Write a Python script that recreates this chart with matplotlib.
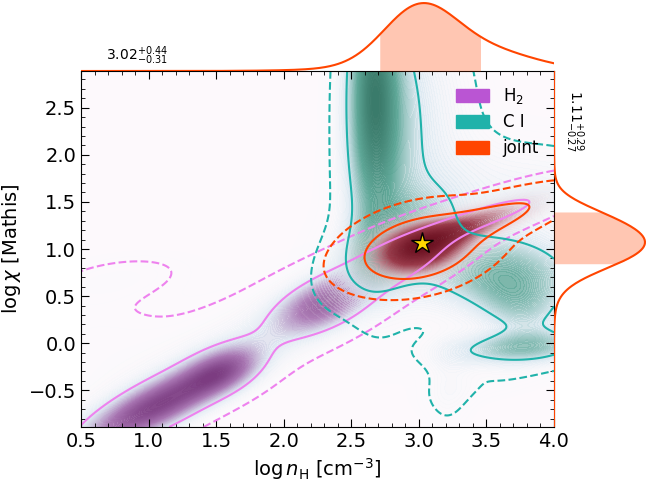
import numpy as np
import matplotlib
matplotlib.use("Agg")
import matplotlib.pyplot as plt
from matplotlib.colors import LinearSegmentedColormap, to_rgba
from matplotlib.patches import Patch
from matplotlib.ticker import MultipleLocator

# axis ranges
x_range = (0.5, 4.0)
y_range = (-0.89, 2.89)

# posterior shapes: gaussian pieces
# (centre x, centre y, angle in deg, sigma along, sigma across, peak)
h2_x = [1.05, 1.55, 2.30, 2.80, 3.55, 1.80, 1.40, 0.78, 0.50]
h2_y = [-0.68, -0.30, 0.42, 0.85, 1.38, 0.00, 0.05, 0.70, 0.10]
h2_ang = [37, 40, 38, 34, 25, 38, 38, 15, 40]
h2_sa = [0.45, 0.22, 0.28, 0.35, 0.50, 1.50, 1.40, 0.40, 0.50]
h2_sp = [0.15, 0.14, 0.16, 0.15, 0.11, 0.22, 0.35, 0.16, 0.40]
h2_w = [1.0, 0.6, 0.75, 0.5, 0.4, 0.25, 0.06, 0.08, 0.07]

ci_x = [2.66, 2.78, 2.80, 3.60, 3.75, 3.75, 3.20, 3.22, 3.80, 3.15, 3.60]
ci_y = [2.70, 2.30, 1.05, 0.75, -0.05, 0.35, 0.60, -0.45, 1.60, 2.50, -0.40]
ci_ang = [90, 90, 55, -10, 5, -60, 0, 88, 0, 90, 20]
ci_sa = [1.00, 1.00, 0.40, 0.45, 0.35, 0.25, 0.90, 0.35, 0.60, 0.80, 0.35]
ci_sp = [0.13, 0.22, 0.22, 0.28, 0.12, 0.20, 0.70, 0.12, 0.40, 0.25, 0.12]
ci_w = [1.0, 0.5, 0.6, 0.75, 0.7, 0.4, 0.06, 0.15, 0.25, 0.20, 0.08]

joint_x = [3.00, 3.45, 3.10, 3.85]
joint_y = [1.00, 1.28, 1.08, 1.50]
joint_ang = [27, 25, 25, 25]
joint_sa = [0.28, 0.35, 0.60, 0.30]
joint_sp = [0.20, 0.11, 0.25, 0.10]
joint_w = [1.0, 0.5, 0.08, 0.10]

# best point and quoted numbers
best_x, best_y = [3.02], [1.06]
nh_med, nh_up, nh_lo = 3.02, 0.44, 0.31
chi_med, chi_up, chi_lo = 1.11, 0.29, 0.27


def mixture(X, Y, x0, y0, ang, sa, sp, w):
    Z = np.zeros_like(X)
    for i in range(len(x0)):
        t = np.deg2rad(ang[i])
        dx, dy = X - x0[i], Y - y0[i]
        a = dx * np.cos(t) + dy * np.sin(t)
        p = -dx * np.sin(t) + dy * np.cos(t)
        Z += w[i] * np.exp(-0.5 * ((a / sa[i]) ** 2 + (p / sp[i]) ** 2))
    return Z


def hpd_levels(Z, fracs=(0.95, 0.68)):
    z = np.sort(Z.ravel())[::-1]
    c = np.cumsum(z)
    c /= c[-1]
    return [z[np.searchsorted(c, f)] for f in fracs]


def fade_cmap(name, cols):
    # colours fade to transparent at zero so the layers can overlap
    return LinearSegmentedColormap.from_list(name, [to_rgba(c, a) for c, a in cols])


xg = np.linspace(*x_range, 400)
yg = np.linspace(*y_range, 400)
X, Y = np.meshgrid(xg, yg)

Z_h2 = mixture(X, Y, h2_x, h2_y, h2_ang, h2_sa, h2_sp, h2_w)
Z_ci = mixture(X, Y, ci_x, ci_y, ci_ang, ci_sa, ci_sp, ci_w)
Z_j = mixture(X, Y, joint_x, joint_y, joint_ang, joint_sa, joint_sp, joint_w)

cm_h2 = fade_cmap("h2", [("#ffffff", 0.0), ("#dce8f2", 0.6), ("#a874b2", 0.85), ("#7a3a80", 1.0)])
cm_ci = fade_cmap("ci", [("#ffffff", 0.0), ("#d6e6f0", 0.6), ("#5fa898", 0.85), ("#3a7a6a", 1.0)])
cm_j = fade_cmap("joint", [("#ffffff", 0.0), ("#e8c8d0", 0.3), ("#9a3a4a", 0.8), ("#6a1020", 1.0)])

fig = plt.figure(figsize=(6.5, 4.82), dpi=100)
ax = fig.add_axes([0.1246, 0.1141, 0.7277, 0.7386])
ax.set_facecolor("#fdf9fc")

for Z, cm in [(Z_h2, cm_h2), (Z_ci, cm_ci), (Z_j, cm_j)]:
    ax.contourf(X, Y, Z, levels=np.linspace(0, Z.max(), 80), cmap=cm)

for Z, col in [(Z_h2, "violet"), (Z_ci, "lightseagreen"), (Z_j, "orangered")]:
    ax.contour(X, Y, Z, levels=hpd_levels(Z), colors=col,
               linestyles=["--", "-"], linewidths=1.5)

ax.plot(best_x, best_y, marker="*", ms=16, mfc="gold", mec="k", mew=1.0, ls="none")

ax.set_xlim(*x_range)
ax.set_ylim(*y_range)
ax.xaxis.set_major_locator(MultipleLocator(0.5))
ax.yaxis.set_major_locator(MultipleLocator(0.5))
ax.xaxis.set_minor_locator(MultipleLocator(0.1))
ax.yaxis.set_minor_locator(MultipleLocator(0.1))
ax.tick_params(which="both", direction="in", top=True, right=True, labelsize=14)
ax.tick_params(which="major", length=6)
ax.tick_params(which="minor", length=3)
ax.set_xlabel(r"$\log n_{\rm H}$ [cm$^{-3}$]", fontsize=14)
ax.set_ylabel(r"$\log \chi$ [Mathis]", fontsize=14)

handles = [Patch(color="mediumorchid", label=r"H$_2$"),
           Patch(color="lightseagreen", label="C I"),
           Patch(color="orangered", label="joint")]
ax.legend(handles=handles, loc="upper right", frameon=False, fontsize=12,
          handlelength=2.0, handleheight=0.8, labelspacing=0.45)

# marginals of the joint posterior
mx = Z_j.sum(axis=0)
my = Z_j.sum(axis=1)

axt = fig.add_axes([0.1246, 0.8527, 0.7277, 0.1473])
axt.plot(xg, mx, color="orangered", lw=1.5)
sel = (xg >= nh_med - nh_lo) & (xg <= nh_med + nh_up)
axt.fill_between(xg[sel], 0, mx[sel], color="orangered", alpha=0.3, lw=0)
axt.set_xlim(*x_range)
axt.set_ylim(0, mx.max() * 1.045)
axt.axis("off")

axr = fig.add_axes([0.8523, 0.1141, 0.1477, 0.7386])
axr.plot(my, yg, color="orangered", lw=1.5)
sel = (yg >= chi_med - chi_lo) & (yg <= chi_med + chi_up)
axr.fill_betweenx(yg[sel], 0, my[sel], color="orangered", alpha=0.3, lw=0)
axr.set_ylim(*y_range)
axr.set_xlim(0, my.max() * 1.055)
axr.axis("off")

fig.text(106 / 650, 1 - 56 / 482, r"$%.2f^{+%.2f}_{-%.2f}$" % (nh_med, nh_up, nh_lo),
         fontsize=10, ha="left", va="center")
fig.text(574 / 650, 1 - 121 / 482, r"$%.2f^{+%.2f}_{-%.2f}$" % (chi_med, chi_up, chi_lo),
         fontsize=10, ha="center", va="center", rotation=270)

fig.savefig("out.png", dpi=100)
